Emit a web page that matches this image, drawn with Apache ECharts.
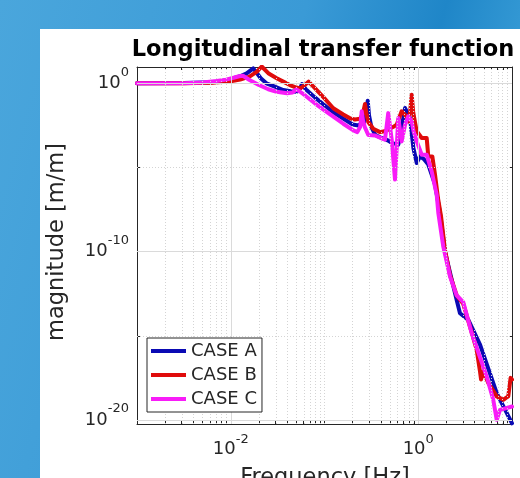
<!DOCTYPE html>
<html><head><meta charset="utf-8">
<script src="https://cdn.jsdelivr.net/npm/echarts@6/dist/echarts.min.js"></script>
<style>html,body{margin:0;padding:0;width:520px;height:478px;overflow:hidden}#c{width:520px;height:478px}</style>
</head><body><div id="c"></div>
<script>
const titleText = 'Longitudinal transfer function';
const xLabelText = 'Frequency [Hz]';
const yLabelText = 'magnitude [m/m]';
const seriesNames = ['CASE A', 'CASE B', 'CASE C'];
const seriesColors = ['#0a0ab4', '#e00b0b', '#f81cf8'];
const xTickExponents = [-2, 0];
const yTickExponents = [-20, -10, 0];
const yMinorExponents = [-15, -5];

// log10(frequency [Hz]) and log10(magnitude [m/m])
const logFreqA = [-3, -2.5, -2.2, -2.05, -1.97, -1.9, -1.83, -1.76, -1.72, -1.68, -1.62, -1.53, -1.44, -1.36, -1.3, -1.26, -1.24, -1.2, -1.1, -1.0, -0.906, -0.8, -0.7, -0.64, -0.58, -0.555, -0.539, -0.525, -0.5, -0.46, -0.41, -0.36, -0.32, -0.28, -0.24, -0.213, -0.177, -0.141, -0.11, -0.088, -0.052, -0.016, 0.019, 0.06, 0.107, 0.179, 0.232, 0.285, 0.35, 0.41, 0.445, 0.534, 0.66, 0.837, 1.0];
const logMagA = [0, 0.02, 0.06, 0.15, 0.3, 0.42, 0.59, 0.89, 0.6, 0.3, 0.0, -0.2, -0.4, -0.47, -0.5, -0.3, -0.04, -0.35, -0.85, -1.3, -1.72, -2.1, -2.45, -2.5, -2.35, -1.8, -1.03, -1.9, -2.6, -3.05, -3.2, -3.3, -3.4, -3.55, -3.6, -3.64, -2.65, -1.47, -1.8, -2.06, -3.84, -4.73, -4.34, -4.5, -4.83, -6.02, -7.7, -10.0, -11.5, -12.87, -13.66, -14.05, -15.54, -18.41, -20.2];

const logFreqB = [-3, -2.5, -2.2, -2.0, -1.9, -1.8, -1.72, -1.67, -1.6, -1.51, -1.44, -1.37, -1.3, -1.26, -1.22, -1.17, -1.1, -1.0, -0.906, -0.8, -0.728, -0.675, -0.621, -0.59, -0.568, -0.55, -0.533, -0.48, -0.408, -0.36, -0.32, -0.27, -0.23, -0.177, -0.141, -0.106, -0.085, -0.07, -0.055, -0.035, -0.016, 0.037, 0.09, 0.107, 0.15, 0.179, 0.21, 0.243, 0.285, 0.339, 0.41, 0.48, 0.57, 0.623, 0.659, 0.67, 0.694, 0.747, 0.837, 0.907, 0.96, 0.985, 1.0];
const logMagB = [0, 0, 0.03, 0.12, 0.22, 0.4, 0.7, 1.0, 0.6, 0.3, 0.1, -0.1, -0.25, -0.3, -0.15, 0.1, -0.3, -0.9, -1.48, -1.85, -2.08, -2.15, -2.1, -1.8, -1.23, -1.9, -2.3, -2.7, -2.9, -2.85, -2.75, -2.6, -2.46, -1.66, -1.86, -2.26, -1.6, -0.68, -1.66, -2.3, -2.85, -3.25, -3.25, -4.34, -4.34, -5.43, -6.81, -7.9, -9.9, -11.4, -12.6, -13.1, -14.8, -15.83, -17.13, -17.6, -17.13, -17.8, -18.6, -18.8, -18.6, -17.5, -17.6];

const logFreqC = [-3, -2.5, -2.3, -2.15, -2.05, -1.97, -1.91, -1.87, -1.8, -1.7, -1.6, -1.51, -1.4, -1.34, -1.3, -1.26, -1.2, -1.1, -1.0, -0.906, -0.8, -0.693, -0.65, -0.62, -0.603, -0.59, -0.57, -0.533, -0.461, -0.39, -0.355, -0.32, -0.283, -0.248, -0.213, -0.177, -0.141, -0.106, -0.07, -0.05, -0.016, 0.037, 0.09, 0.143, 0.197, 0.214, 0.267, 0.339, 0.41, 0.48, 0.57, 0.73, 0.8, 0.837, 0.872, 1.0];
const logMagC = [0, 0, 0.05, 0.14, 0.22, 0.33, 0.42, 0.45, 0.2, -0.1, -0.35, -0.5, -0.59, -0.55, -0.36, -0.5, -0.75, -1.2, -1.6, -1.98, -2.4, -2.8, -2.9, -2.6, -1.66, -2.2, -2.6, -3.07, -3.1, -3.27, -3.35, -1.77, -3.35, -5.72, -2.06, -3.45, -2.46, -1.96, -2.26, -2.85, -3.45, -4.24, -4.24, -5.23, -6.63, -7.7, -9.7, -11.48, -12.6, -13.0, -14.85, -17.42, -18.8, -19.99, -19.4, -19.2];

const X_MIN = -3, X_MAX = 1, Y_MIN = -20.24, Y_MAX = 0.97;
const FONT = '"DejaVu Sans"';
const TXT = '#262626';

// log-scale minor positions (k * 10^n)
const xMinor = [];
for (let n = -3; n <= 0; n++) {
  for (let k = 1; k <= 9; k++) {
    const v = +(n + Math.log10(k)).toFixed(5);
    if (v > X_MIN) xMinor.push(v);
  }
}
const xMinorU = Array.from(new Set(xMinor)).filter(v => xTickExponents.indexOf(v) < 0);

const zip = (a, b) => a.map((v, i) => [v, b[i]]);
const seriesData = [zip(logFreqA, logMagA), zip(logFreqB, logMagB), zip(logFreqC, logMagC)];

function richFor(pb) {
  return {
    b: { fontSize: 18, fontFamily: FONT, color: TXT },
    s: { fontSize: 13, fontFamily: FONT, color: TXT, padding: [0, 0, pb, 0] }
  };
}
const powFmt = v => '{b|10}{s|' + Math.round(v) + '}';

function xAx(pos, labels, ticks, len, line) {
  return {
    type: 'value', position: pos, min: X_MIN, max: X_MAX, interval: 1,
    axisLine: { show: line, onZero: false, lineStyle: { color: TXT, width: 1 } },
    axisTick: { show: true, inside: true, length: len, customValues: ticks, lineStyle: { color: TXT, width: 1 } },
    axisLabel: labels ? { show: true, customValues: xTickExponents, formatter: powFmt, rich: richFor(20), margin: 9, color: TXT } : { show: false },
    splitLine: { show: false }
  };
}
function yAx(pos, labels, ticks, len, line) {
  return {
    type: 'value', position: pos, min: Y_MIN, max: Y_MAX,
    axisLine: { show: line, onZero: false, lineStyle: { color: TXT, width: 1 } },
    axisTick: { show: true, inside: true, length: len, customValues: ticks, lineStyle: { color: TXT, width: 1 } },
    axisLabel: labels ? { show: true, customValues: yTickExponents, formatter: powFmt, rich: richFor(22), margin: 8, color: TXT } : { show: false },
    splitLine: { show: false }
  };
}

const gridLines = [];
xMinorU.forEach(v => gridLines.push({ xAxis: v, lineStyle: { color: '#d4d4d4', type: [1, 2], width: 1 } }));
xTickExponents.forEach(v => gridLines.push({ xAxis: v, lineStyle: { color: '#dadada', type: 'solid', width: 1 } }));
yMinorExponents.forEach(v => gridLines.push({ yAxis: v, lineStyle: { color: '#d4d4d4', type: [1, 2], width: 1 } }));
yTickExponents.forEach(v => gridLines.push({ yAxis: v, lineStyle: { color: '#dadada', type: 'solid', width: 1 } }));

const chart = echarts.init(document.getElementById('c'), null, { renderer: 'canvas' });
chart.setOption({
  animation: false,
  backgroundColor: { type: 'linear', x: 0, y: 0, x2: 1, y2: 0.3, colorStops: [
    { offset: 0, color: '#4aa6dc' }, { offset: 0.55, color: '#3a9ad6' }, { offset: 0.8, color: '#1f86c8' }, { offset: 1, color: '#3b9fd8' }] },
  graphic: [
    { type: 'rect', z: -100, silent: true, shape: { x: 40, y: 29, width: 480, height: 449 }, style: { fill: '#ffffff' } },
    { type: 'text', x: 323, y: 50, silent: true, style: { text: titleText, font: 'bold 22.5px ' + FONT, fill: '#000', align: 'center', verticalAlign: 'middle', textAlign: 'center', textVerticalAlign: 'middle' } },
    { type: 'text', x: 57, y: 242, rotation: Math.PI / 2, silent: true, style: { text: yLabelText, font: '22.5px ' + FONT, fill: TXT, align: 'center', verticalAlign: 'middle', textAlign: 'center', textVerticalAlign: 'middle' } },
    { type: 'text', x: 325, y: 478, silent: true, style: { text: xLabelText, font: '22.5px ' + FONT, fill: TXT, align: 'center', verticalAlign: 'middle', textAlign: 'center', textVerticalAlign: 'middle' } }
  ],
  grid: { left: 137, top: 67, width: 375, height: 357, containLabel: false },
  xAxis: [
    xAx('bottom', true, xTickExponents, 6, true),
    xAx('bottom', false, xMinorU, 3, false),
    xAx('top', false, xTickExponents, 6, true),
    xAx('top', false, xMinorU, 3, false)
  ],
  yAxis: [
    yAx('left', true, yTickExponents, 6, true),
    yAx('left', false, yMinorExponents, 3, false),
    yAx('right', false, yTickExponents, 6, true),
    yAx('right', false, yMinorExponents, 3, false)
  ],
  legend: {
    data: seriesNames, orient: 'vertical', left: 147, top: 338, z: 10,
    backgroundColor: '#ffffff', borderColor: TXT, borderWidth: 1, borderRadius: 0,
    padding: [3, 5, 3, 4], itemGap: 4, itemWidth: 35, itemHeight: 4, icon: 'rect',
    textStyle: { fontSize: 18, fontFamily: FONT, color: TXT, lineHeight: 20 }
  },
  series: [
    { type: 'line', name: '_grid', z: 1, data: [[X_MIN, 0]], symbol: 'none', lineStyle: { opacity: 0 }, silent: true,
      markLine: { silent: true, symbol: ['none', 'none'], label: { show: false }, animation: false, data: gridLines } }
  ].concat(seriesNames.map((nm, i) => ({
    type: 'line', name: nm, z: 2 + i, data: seriesData[i], symbol: 'none', showSymbol: false,
    color: seriesColors[i],
    lineStyle: { color: seriesColors[i], width: 4, join: 'round', cap: 'round' }
  })))
});
</script></body></html>
